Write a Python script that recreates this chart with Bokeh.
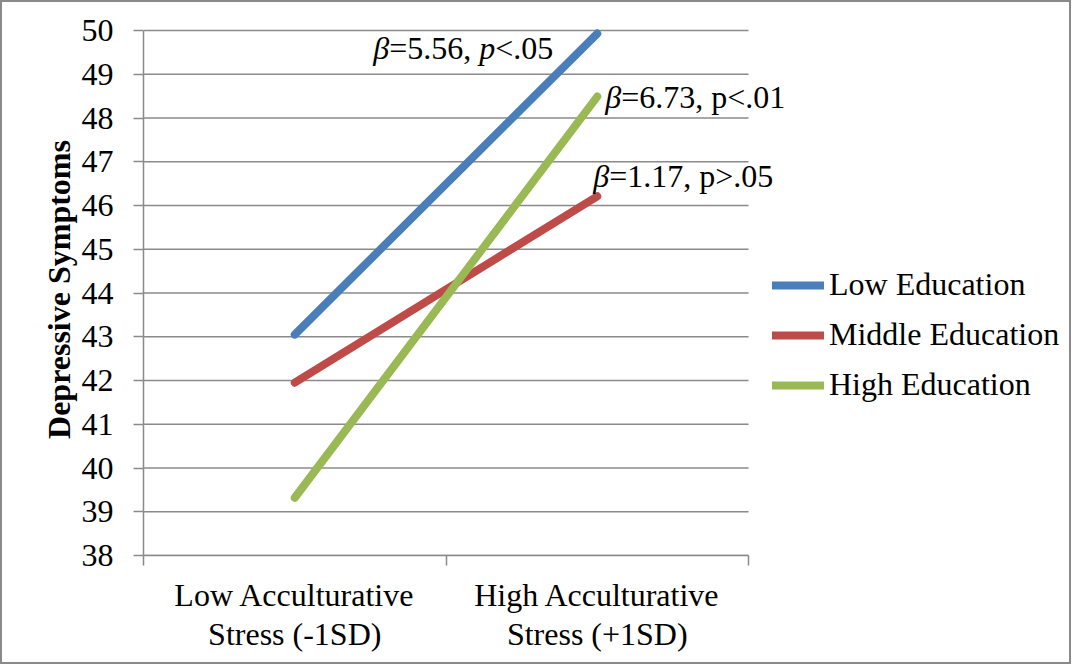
from bokeh.plotting import figure
from bokeh.models import Range1d, FixedTicker, Label, Legend, LegendItem
from bokeh.embed import file_html
from bokeh.resources import INLINE

# ---- data ----
categories = ["Low Acculturative\nStress (-1SD)", "High Acculturative\nStress (+1SD)"]
series_names = ["Low Education", "Middle Education", "High Education"]
low_education = [43.05, 49.93]
middle_education = [41.95, 46.21]
high_education = [39.32, 48.49]
y_ticks = list(range(38, 51))
# annotation segments: (text, italic)
ann_low = [("β", True), ("=5.56, ", False), ("p", True), ("<.05", False)]
ann_high = [("β", True), ("=6.73, p<.01", False)]
ann_mid = [("β", True), ("=1.17, p>.05", False)]

colors = ["#4A7EBB", "#BE4B48", "#98B954"]
FONT = "Liberation Serif"
FS = 32
GRID = "#8a8a8a"

# ---- layout (pixels) ----
W, H = 1071, 664          # outer box incl. 2px border
PLOT_L, PLOT_R = 141, 746  # category area (x 0..n)
PLOT_T, PLOT_B = 28, 553   # value area (y 38..50)
FRAME_T = 21
n = len(categories)
px_x = (PLOT_R - PLOT_L) / n
px_y = (PLOT_B - PLOT_T) / (y_ticks[-1] - y_ticks[0])
x_end = (W - PLOT_L) / px_x
y_end = y_ticks[0] + (PLOT_B - FRAME_T) / px_y

x_pos = [i + 0.5 for i in range(n)]

p = figure(width=W, height=H, output_backend="svg", toolbar_location=None,
           x_range=Range1d(0, x_end), y_range=Range1d(y_ticks[0], y_end),
           min_border_left=PLOT_L, min_border_right=0, min_border_top=FRAME_T,
           min_border_bottom=H - PLOT_B,
           styles={"border": f"2px solid {GRID}"})
p.outline_line_color = None
p.background_fill_color = "white"
p.border_fill_color = "white"

# y axis
p.yaxis.ticker = FixedTicker(ticks=y_ticks)
p.yaxis.bounds = (y_ticks[0], y_ticks[-1])
p.yaxis.axis_line_color = GRID
p.yaxis.axis_line_width = 1.5
p.yaxis.major_tick_line_color = GRID
p.yaxis.major_tick_line_width = 1.5
p.yaxis.major_tick_in = 0
p.yaxis.major_tick_out = 10
p.yaxis.minor_tick_line_color = None
p.yaxis.major_label_standoff = 20
p.yaxis.major_label_text_font = FONT
p.yaxis.major_label_text_font_size = f"{FS}px"
p.yaxis.major_label_text_color = "black"
p.yaxis.axis_label = "Depressive Symptoms"
p.yaxis.axis_label_text_font = FONT
p.yaxis.axis_label_text_font_size = f"{FS}px"
p.yaxis.axis_label_text_font_style = "bold"
p.yaxis.axis_label_text_color = "black"
p.yaxis.axis_label_standoff = 2

# x axis: labels at category centres, ticks at boundaries
p.xaxis.ticker = FixedTicker(ticks=x_pos, minor_ticks=list(range(n + 1)))
p.xaxis.bounds = (0, n)
p.xaxis.major_label_overrides = {x: c for x, c in zip(x_pos, categories)}
p.xaxis.axis_line_color = GRID
p.xaxis.axis_line_width = 1.5
p.xaxis.major_tick_line_color = None
p.xaxis.minor_tick_line_color = GRID
p.xaxis.minor_tick_line_width = 1.5
p.xaxis.minor_tick_in = 0
p.xaxis.minor_tick_out = 10
p.xaxis.major_label_standoff = 11
p.xaxis.major_label_text_font = FONT
p.xaxis.major_label_text_font_size = f"{FS}px"
p.xaxis.major_label_text_color = "black"
p.xaxis.major_label_text_line_height = 1.1

p.xgrid.grid_line_color = None
p.ygrid.grid_line_color = None
# horizontal gridlines limited to the category area
p.segment(x0=[0] * len(y_ticks), x1=[n] * len(y_ticks), y0=y_ticks, y1=y_ticks,
          line_color=GRID, line_width=1.5)

renderers = []
for vals, col in zip([low_education, middle_education, high_education], colors):
    r = p.line(x_pos, vals, line_color=col, line_width=8, line_cap="round")
    renderers.append(r)

legend = Legend(items=[LegendItem(label=nm, renderers=[r]) for nm, r in zip(series_names, renderers)],
                location=(629, 152), orientation="vertical",
                glyph_width=52, glyph_height=30, label_height=30, label_standoff=5,
                spacing=13, padding=0, margin=0,
                border_line_color=None, background_fill_alpha=0,
                label_text_font=FONT, label_text_font_size=f"{FS}px", label_text_color="black")
p.add_layout(legend)

# annotations
W_REG = {"=": .564, "<": .564, ">": .564, ".": .25, ",": .25, " ": .25, "p": .5}
def seg_width(t, italic):
    if t == "β":
        return 0.5 * FS
    return sum(W_REG.get(ch, .5) for ch in t) * FS

def place(segments, x, y, dx, dy, align="left"):
    total = sum(seg_width(t, it) for t, it in segments)
    off = dx - (total if align == "right" else 0)
    for t, it in segments:
        p.add_layout(Label(x=x, y=y, x_offset=off, y_offset=dy, text=t,
                           text_font=FONT, text_font_size=f"{FS}px",
                           text_font_style="italic" if it else "normal",
                           text_color="black", text_align="left", text_baseline="middle"))
        off += seg_width(t, it)

place(ann_low, x_pos[1], low_education[1], -44, -14, align="right")
place(ann_high, x_pos[1], high_education[1], 8, 0)
place(ann_mid, x_pos[1], middle_education[1], -4, 20)

open("out.html", "w").write(file_html(p, INLINE))
